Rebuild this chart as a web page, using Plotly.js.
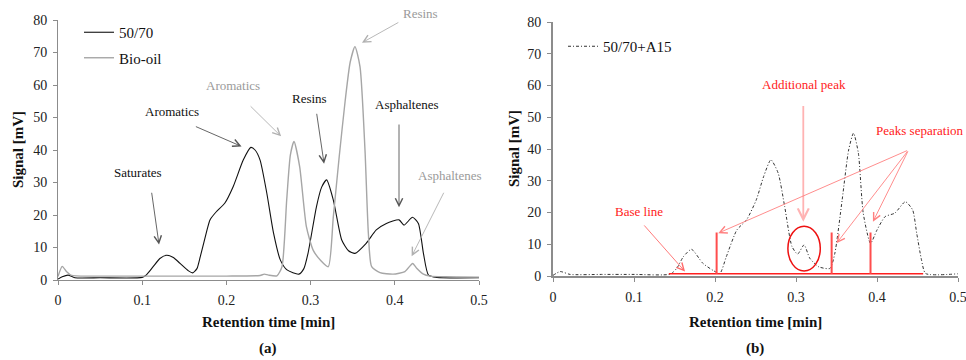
<!DOCTYPE html>
<html>
<head>
<meta charset="utf-8">
<script src="https://cdn.plot.ly/plotly-3.0.1.min.js"></script>
<style>html,body{margin:0;padding:0;background:#fff;}#chart{width:966px;height:360px;}</style>
</head>
<body>
<div id="chart"></div>
<script>
// ---- Data ----
const timeA = [0, 0.005, 0.012, 0.02, 0.05, 0.1, 0.105, 0.113, 0.121, 0.129, 0.137, 0.145, 0.155, 0.16, 0.165, 0.169, 0.177, 0.1805, 0.188, 0.198, 0.208, 0.22, 0.229, 0.234, 0.24, 0.248, 0.256, 0.264, 0.272, 0.286, 0.292, 0.297, 0.307, 0.313, 0.319, 0.327, 0.337, 0.345, 0.3527, 0.366, 0.378, 0.39, 0.405, 0.411, 0.421, 0.428, 0.434, 0.44, 0.45, 0.5];
const signal5070 = [0.3, 1.0, 1.5, 0.7, 0.7, 0.8, 1.6, 4.1, 6.6, 7.6, 6.9, 5.1, 2.8, 2.2, 3.5, 7.2, 15.4, 18.5, 21, 23.6, 28.7, 36.9, 40.8, 40, 36.9, 26.7, 14.4, 6.2, 3.1, 1.8, 3.5, 8.3, 22.6, 28.5, 30.8, 24.6, 12.3, 9.0, 8.2, 11.3, 15.4, 17.4, 18.5, 16.9, 19.3, 17.4, 8.2, 1.5, 0.8, 0.7];

const timeBio = [0, 0.005, 0.01, 0.016, 0.05, 0.1, 0.2, 0.24, 0.245, 0.25, 0.26, 0.266, 0.2716, 0.276, 0.2803, 0.287, 0.295, 0.303, 0.312, 0.321, 0.327, 0.334, 0.341, 0.347, 0.3527, 0.3587, 0.3646, 0.3686, 0.3725, 0.3824, 0.398, 0.412, 0.4212, 0.426, 0.434, 0.442, 0.46, 0.5];
const signalBio = [1.1, 4.2, 2.6, 1.4, 1.2, 1.2, 1.2, 1.4, 1.8, 1.5, 1.3, 4.1, 24.6, 38.5, 42.6, 34.9, 16.4, 9.2, 6.0, 4.1, 19.5, 38, 55, 67, 71.8, 65.6, 40, 14.4, 4.1, 2.3, 1.8, 2.6, 5.1, 3.6, 1.8, 1.2, 1.0, 0.9];

const timeA15 = [0, 0.009, 0.021, 0.06, 0.1, 0.145, 0.153, 0.161, 0.171, 0.185, 0.198, 0.206, 0.214, 0.227, 0.239, 0.251, 0.26, 0.269, 0.278, 0.286, 0.295, 0.302, 0.31, 0.317, 0.328, 0.342, 0.348, 0.357, 0.365, 0.371, 0.377, 0.383, 0.392, 0.4, 0.41, 0.422, 0.435, 0.444, 0.449, 0.455, 0.46, 0.5];
const signalA15 = [0.2, 1.4, 0.5, 0.5, 0.5, 0.6, 2.5, 6.1, 8.4, 4.0, 1.7, 0.8, 6.1, 14.5, 17.7, 24.0, 31.3, 36.6, 32.4, 21.9, 9.3, 6.9, 9.8, 5.6, 2.9, 2.4, 7.2, 24.0, 39.7, 45.0, 38.7, 19.8, 10.3, 14.5, 18.7, 19.8, 23.4, 20.8, 13.5, 5.0, 0.8, 0.7];

const seriesNames = ["50/70", "Bio-oil", "50/70+A15"];
const xTickVals = [0, 0.1, 0.2, 0.3, 0.4, 0.5];
const xTickText = ["0", "0.1", "0.2", "0.3", "0.4", "0.5"];
const yTickVals = [0, 10, 20, 30, 40, 50, 60, 70, 80];

// annotation data for panel (a): label, colour group, text x,y, arrow tail x,y, arrow head x,y
const labelsA = ["Saturates", "Aromatics", "Aromatics", "Resins", "Resins", "Asphaltenes", "Asphaltenes"];
const labelIsBio = [false, false, true, false, true, false, true];
const labelX = [0.095, 0.135, 0.208, 0.299, 0.431, 0.415, 0.465];
const labelY = [33.2, 52, 60, 56, 81.9, 53.9, 32.1];
const tailX = [0.111, 0.162, 0.227, 0.307, 0.406, 0.405, 0.459];
const tailY = [27.3, 47.4, 53.9, 51.6, 79.5, 48.3, 27.3];
const headX = [0.120, 0.218, 0.265, 0.316, 0.361, 0.405, 0.420];
const headY = [10.9, 41.1, 44.2, 35.8, 73.0, 22.4, 7.3];

// panel (b) red marks
const baseLineX = [0.143, 0.457];
const baseLineY = 0.7;
const separationX = [0.202, 0.344, 0.392];
const separationTop = 13.7;
const peakEllipseX = [0.290, 0.330];
const peakEllipseY = [1.6, 15.7];
const redLabels = ["Base line", "Additional peak", "Peaks separation"];
const redLabelX = [0.106, 0.310, 0.453];
const redLabelY = [20.2, 60.3, 45.8];
const baseArrow = {tail: [0.111, 16.4], head: [0.163, 1.4]};
const addArrow = {tail: [0.309, 54], head: [0.309, 17.1]};
const sepTail = [0.439, 39.7];
const sepHeadX = [0.204, 0.350, 0.395];
const sepHeadY = [13.5, 10.3, 17.1];

// ---- Figure ----
const serif = '"Liberation Serif", "Times New Roman", serif';
const traces = [
  {x: timeA, y: signal5070, name: seriesNames[0], type: "scatter", mode: "lines",
   line: {color: "#111", width: 1.1, shape: "spline", smoothing: 0.6}, xaxis: "x", yaxis: "y", legend: "legend", legendgroup: "a"},
  {x: timeBio, y: signalBio, name: seriesNames[1], type: "scatter", mode: "lines",
   line: {color: "#a6a6a6", width: 1.4, shape: "spline", smoothing: 0.6}, xaxis: "x", yaxis: "y", legend: "legend", legendgroup: "b"},
  {x: timeA15, y: signalA15, name: seriesNames[2], type: "scatter", mode: "lines",
   line: {color: "#333", width: 1, dash: "3px,2px,1px,2px", shape: "spline", smoothing: 0.6}, xaxis: "x2", yaxis: "y2", legend: "legend2"}
];

function axisX(domain, lw) {
  return {domain: domain, range: [0, 0.5], tickvals: xTickVals, ticktext: xTickText,
    showline: true, linecolor: "#8c8c8c", linewidth: lw, ticks: "outside", ticklen: 4, tickcolor: "#8c8c8c",
    tickwidth: 1, showgrid: false, zeroline: false, ticklabelstandoff: 3, ticklabeloverflow: "allow",
    tickfont: {family: serif, size: 14, color: "#222"}, fixedrange: true};
}
function axisY(domain, lw, anchor) {
  return {domain: domain, range: [0, 80], tickvals: yTickVals, anchor: anchor,
    showline: true, linecolor: "#8c8c8c", linewidth: lw, ticks: "outside", ticklen: 4, tickcolor: "#8c8c8c",
    tickwidth: 1, showgrid: false, zeroline: false, ticklabelstandoff: 3, ticklabeloverflow: "allow",
    tickfont: {family: serif, size: 14, color: "#222"}, fixedrange: true};
}

const W = 966, H = 360;
const px = v => v / W, py = v => 1 - v / H;

const annotations = [];
// panel (a) labels and arrows
labelsA.forEach((t, i) => {
  const col = labelIsBio[i] ? "#9a9a9a" : "#111";
  const outside = labelY[i] > 80;
  annotations.push({xref: "x", yref: outside ? "paper" : "y", x: labelX[i],
    y: outside ? py(280 - labelY[i] * 3.25) : labelY[i], xanchor: "center", yanchor: "middle",
    text: t, showarrow: false, font: {family: serif, size: 13, color: col}});
  annotations.push({xref: "x", yref: "y", axref: "x", ayref: "y", x: headX[i], y: headY[i],
    ax: tailX[i], ay: tailY[i], text: "", showarrow: true, arrowhead: 5, arrowsize: 1.6, arrowwidth: 0.9,
    arrowcolor: labelIsBio[i] ? "#b0b0b0" : "#555"});
});
// panel (b) red labels and arrows
redLabels.forEach((t, i) => {
  annotations.push({xref: "x2", yref: "y2", x: redLabelX[i], y: redLabelY[i], text: t, showarrow: false,
    xanchor: "center", yanchor: "middle", font: {family: serif, size: 13, color: "#ff1a1a"}});
});
annotations.push({xref: "x2", yref: "y2", axref: "x2", ayref: "y2", x: baseArrow.head[0], y: baseArrow.head[1],
  ax: baseArrow.tail[0], ay: baseArrow.tail[1], text: "", showarrow: true, arrowhead: 5, arrowsize: 1.6,
  arrowwidth: 0.9, arrowcolor: "#ff6b6b"});
annotations.push({xref: "x2", yref: "y2", axref: "x2", ayref: "y2", x: addArrow.head[0], y: addArrow.head[1],
  ax: addArrow.tail[0], ay: addArrow.tail[1], text: "", showarrow: true, arrowhead: 5, arrowsize: 1.2,
  arrowwidth: 1.8, arrowcolor: "#ffb3b3"});
sepHeadX.forEach((hx, i) => {
  annotations.push({xref: "x2", yref: "y2", axref: "x2", ayref: "y2", x: hx, y: sepHeadY[i],
    ax: sepTail[0], ay: sepTail[1], text: "", showarrow: true, arrowhead: 5, arrowsize: 1.6,
    arrowwidth: 0.9, arrowcolor: "#ff8080"});
});
// axis titles and panel labels
const titleFont = {family: serif, size: 15, color: "#111", weight: "bold"};
function paperText(x, y, text, angle) {
  annotations.push({xref: "paper", yref: "paper", x: px(x), y: py(y), xanchor: "center", yanchor: "middle",
    text: text, textangle: angle || 0, showarrow: false, font: titleFont});
}
paperText(268, 322, "<b>Retention time [min]</b>");
paperText(755, 322, "<b>Retention time [min]</b>");
paperText(18, 150, "<b>Signal [mV]</b>", -90);
paperText(514, 149, "<b>Signal [mV]</b>", -90);
paperText(268, 348, "<b>(a)</b>");
paperText(755, 348, "<b>(b)</b>");

const shapes = [];
shapes.push({type: "line", xref: "x2", yref: "y2", x0: baseLineX[0], x1: baseLineX[1], y0: baseLineY, y1: baseLineY,
  line: {color: "#ff2020", width: 1.6}});
separationX.forEach(sx => shapes.push({type: "line", xref: "x2", yref: "y2", x0: sx, x1: sx, y0: baseLineY, y1: separationTop,
  line: {color: "#ff4d4d", width: 2}}));
shapes.push({type: "circle", xref: "x2", yref: "y2", x0: peakEllipseX[0], x1: peakEllipseX[1], y0: peakEllipseY[0], y1: peakEllipseY[1],
  line: {color: "#ee1111", width: 1.5}});

const layout = {
  width: W, height: H, margin: {l: 0, r: 0, t: 0, b: 0},
  paper_bgcolor: "#fff", plot_bgcolor: "rgba(0,0,0,0)",
  font: {family: serif, size: 14, color: "#222"},
  xaxis: axisX([px(58), px(479)], 1),
  yaxis: axisY([1 - 280 / H, 1 - 20 / H], 1, "x"),
  xaxis2: Object.assign(axisX([px(553), px(958)], 2), {anchor: "y2"}),
  yaxis2: axisY([1 - 276 / H, 1 - 22 / H], 2, "x2"),
  legend: {x: px(79), y: py(16), xanchor: "left", yanchor: "top", bgcolor: "rgba(0,0,0,0)",
    font: {family: serif, size: 15, color: "#111"}, tracegroupgap: 3, borderwidth: 0},
  legend2: {x: px(563), y: py(30), xanchor: "left", yanchor: "top", bgcolor: "rgba(0,0,0,0)",
    font: {family: serif, size: 15, color: "#111"}, borderwidth: 0},
  showlegend: true,
  annotations: annotations,
  shapes: shapes
};
Plotly.newPlot("chart", traces, layout, {displayModeBar: false, staticPlot: true});
</script>
</body>
</html>
